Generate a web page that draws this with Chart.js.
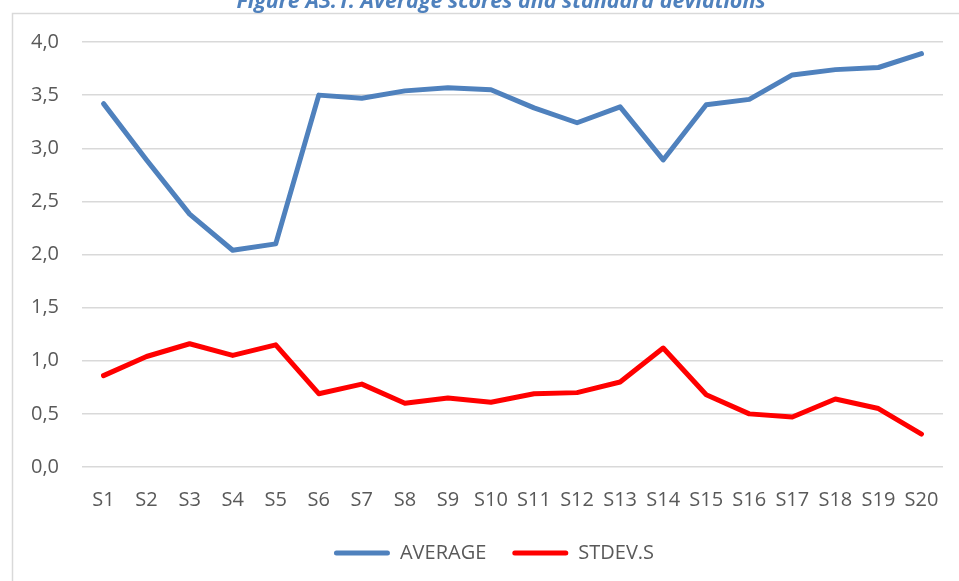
<!DOCTYPE html>
<html>
<head>
<meta charset="utf-8">
<script src="https://cdn.jsdelivr.net/npm/chart.js@4"></script>
<style>
  html, body { margin: 0; padding: 0; background: #fff; overflow: hidden; }
  #wrap { width: 959px; height: 581px; position: relative; }
</style>
</head>
<body>
<div id="wrap"><canvas id="graficoPuntuaciones"></canvas></div>
<script>
let categorias = ["S1", "S2", "S3", "S4", "S5", "S6", "S7", "S8", "S9", "S10",
  "S11", "S12", "S13", "S14", "S15", "S16", "S17", "S18", "S19", "S20"];
let promedio = [3.42, 2.89, 2.38, 2.04, 2.10, 3.50, 3.47, 3.54, 3.57, 3.55,
  3.38, 3.24, 3.39, 2.89, 3.41, 3.46, 3.69, 3.74, 3.76, 3.89];
let desviacion = [0.86, 1.04, 1.16, 1.05, 1.15, 0.69, 0.78, 0.60, 0.65, 0.61,
  0.69, 0.70, 0.80, 1.12, 0.68, 0.50, 0.47, 0.64, 0.55, 0.31];
let etiquetasY = ["0,0", "0,5", "1,0", "1,5", "2,0", "2,5", "3,0", "3,5", "4,0"];
let titulo = "Figure A3.1: Average scores and standard deviations";

let gris = "#595959";
let fuente = "'Open Sans', 'Noto Sans', sans-serif";

// marco y titulo (el titulo queda cortado arriba, como en la imagen)
let marco = {
  id: "marco",
  afterLayout(chart) {
    // la leyenda va centrada en el marco completo, no en el area del grafico
    chart.legend.left += 16;
    chart.legend.right += 16;
  },
  beforeDraw(chart) {
    let c = chart.ctx;
    c.save();
    c.fillStyle = "#fff";
    c.fillRect(0, 0, chart.width, chart.height);
    c.strokeStyle = "#d9d9d9";
    c.lineWidth = 1.5;
    c.strokeRect(12.5, 13.5, 2000, 2000);
    c.font = "italic bold 21.5px " + fuente;
    c.fillStyle = "#4F81BD";
    c.textAlign = "center";
    c.textBaseline = "alphabetic";
    c.fillText(titulo, 501, 8);
    c.restore();
  }
};

let ctx = document.getElementById("graficoPuntuaciones").getContext("2d");

let grafico = new Chart(ctx, {
  type: "line",
  data: {
    labels: categorias,
    datasets: [
      {
        label: "AVERAGE",
        data: promedio,
        borderColor: "#4F81BD",
        backgroundColor: "#4F81BD",
        borderWidth: 5,
        pointRadius: 0,
        tension: 0,
        borderCapStyle: "round",
        borderJoinStyle: "round",
      },
      {
        label: "STDEV.S",
        data: desviacion,
        borderColor: "#FF0000",
        backgroundColor: "#FF0000",
        borderWidth: 5,
        pointRadius: 0,
        tension: 0,
        borderCapStyle: "round",
        borderJoinStyle: "round",
      },
    ],
  },
  options: {
    responsive: true,
    maintainAspectRatio: false,
    animation: false,
    layout: {
      padding: { left: 13, right: 16, top: 42, bottom: 8 },
    },
    scales: {
      x: {
        offset: true,
        afterFit(escala) { escala.height -= 8; },
        grid: { display: false },
        border: { display: false },
        ticks: {
          color: gris,
          font: { family: fuente, size: 20 },
          padding: 13,
          maxRotation: 0,
          autoSkip: false,
        },
      },
      y: {
        min: 0,
        max: 4,
        afterFit(escala) { escala.width = 69; },
        grid: { color: "#d9d9d9", lineWidth: 1.5, drawTicks: false },
        border: { display: false },
        ticks: {
          stepSize: 0.5,
          color: gris,
          padding: 23,
          font: { family: fuente, size: 20 },
          callback: (valor, i) => etiquetasY[i],
        },
      },
    },
    plugins: {
      tooltip: { enabled: false },
      legend: {
        position: "bottom",
        labels: {
          color: gris,
          font: { family: fuente, size: 20 },
          boxWidth: 56,
          boxHeight: 5,
          padding: 26,
          useBorderRadius: true,
          borderRadius: 2.5,
          generateLabels(chart) {
            return Chart.defaults.plugins.legend.labels.generateLabels(chart).map(l => ({
              ...l, lineWidth: 0, fillStyle: l.strokeStyle, borderRadius: 2.5,
            }));
          },
        },
      },
    },
  },
  plugins: [marco],
});
</script>
</body>
</html>
